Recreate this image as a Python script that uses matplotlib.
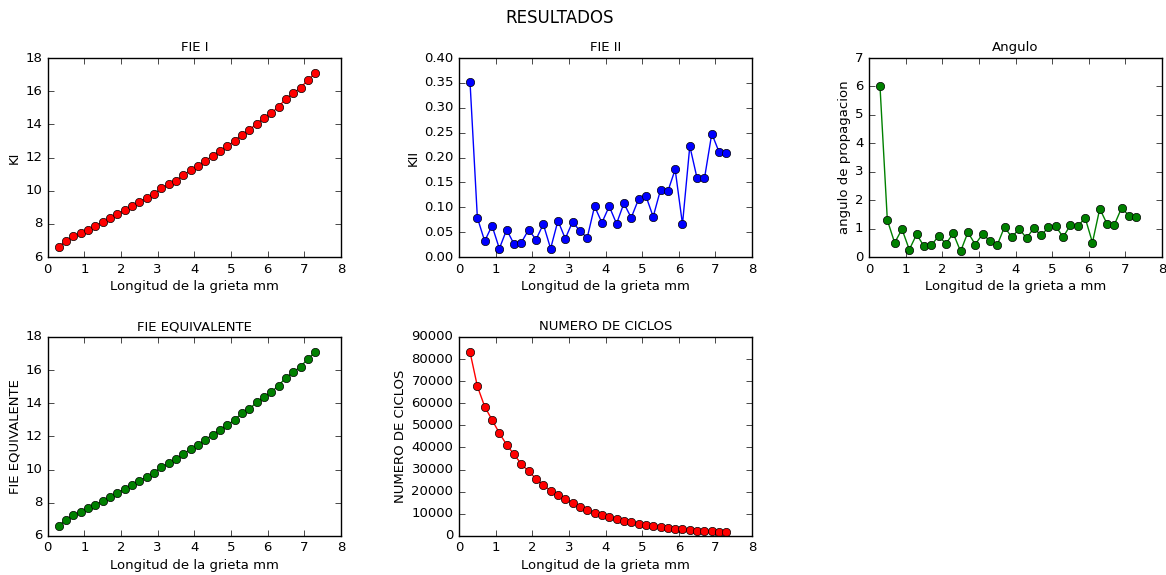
#!/usr/bin/env python3

import matplotlib
matplotlib.use('Agg')
import matplotlib.pyplot as plt

# longitud de grieta (mm)
longitud = [0.3, 0.5, 0.7, 0.9, 1.1, 1.3, 1.5, 1.7, 1.9, 2.1, 2.3, 2.5,
            2.7, 2.9, 3.1, 3.3, 3.5, 3.7, 3.9, 4.1, 4.3, 4.5, 4.7, 4.9,
            5.1, 5.3, 5.5, 5.7, 5.9, 6.1, 6.3, 6.5, 6.7, 6.9, 7.1, 7.3]

fie_1 = [6.62, 6.98, 7.26, 7.44, 7.66, 7.88, 8.10, 8.36, 8.58, 8.84, 9.10, 9.32,
         9.56, 9.82, 10.14, 10.38, 10.61, 10.95, 11.23, 11.49, 11.79, 12.11, 12.41, 12.67,
         13.01, 13.39, 13.65, 14.05, 14.37, 14.67, 15.07, 15.54, 15.88, 16.20, 16.68, 17.08]

fie_2 = [0.351, 0.079, 0.032, 0.063, 0.017, 0.055, 0.026, 0.029, 0.055, 0.035, 0.066, 0.017,
         0.073, 0.037, 0.071, 0.052, 0.039, 0.102, 0.069, 0.102, 0.067, 0.108, 0.079, 0.116,
         0.123, 0.081, 0.135, 0.132, 0.176, 0.066, 0.223, 0.158, 0.158, 0.248, 0.211, 0.210]

angulo = [6.00, 1.30, 0.50, 0.98, 0.26, 0.80, 0.38, 0.41, 0.74, 0.47, 0.83, 0.20,
          0.87, 0.44, 0.81, 0.57, 0.42, 1.06, 0.69, 1.00, 0.66, 1.02, 0.76, 1.05,
          1.08, 0.70, 1.13, 1.08, 1.38, 0.51, 1.70, 1.16, 1.14, 1.74, 1.44, 1.42]

fie_eq = [6.62, 6.98, 7.26, 7.44, 7.66, 7.88, 8.10, 8.36, 8.58, 8.84, 9.10, 9.32,
          9.56, 9.82, 10.14, 10.38, 10.61, 10.95, 11.23, 11.49, 11.79, 12.11, 12.41, 12.67,
          13.01, 13.39, 13.65, 14.05, 14.37, 14.67, 15.07, 15.54, 15.88, 16.20, 16.68, 17.08]

ciclos = [83100, 67700, 58500, 52500, 46500, 41200, 36900, 32500, 29200, 25900, 22900, 20500,
          18500, 16900, 14900, 13200, 11900, 10500, 9500, 8600, 7500, 6900, 6200, 5600,
          5000, 4700, 4200, 3600, 3300, 3000, 2700, 2400, 2200, 2100, 1800, 1700]


def panel(ax, y, fmt, title, ylabel, xlabel, ylim):
    ax.plot(longitud, y, fmt, markersize=6, linewidth=1)
    ax.set_title(title, fontsize=9.5)
    ax.set_ylabel(ylabel, fontsize=9.5, labelpad=3)
    ax.set_xlabel(xlabel, fontsize=9.5, labelpad=3)
    ax.set_xlim(0, 8)
    ax.set_ylim(*ylim)
    ax.tick_params(labelsize=9.5)


plt.style.use('classic')
fig = plt.figure(figsize=(11.66, 5.75), dpi=100, facecolor='white')
fig.suptitle('RESULTADOS', fontsize=12, x=0.48, y=0.985)

w = 0.2513
h = 0.346
cols = [0.041, 0.3937, 0.7453]
rows = [0.553, 0.068]

ax1 = fig.add_axes([cols[0], rows[0], w, h])
panel(ax1, fie_1, 'ro-', 'FIE I', 'KI', 'Longitud de la grieta mm', (6, 18))

ax2 = fig.add_axes([cols[1], rows[0], w, h])
panel(ax2, fie_2, 'bo-', 'FIE II', 'KII', 'Longitud de la grieta mm', (0, 0.4))

ax3 = fig.add_axes([cols[2], rows[0], w, h])
panel(ax3, angulo, 'go-', 'Angulo', 'angulo de propagacion',
      'Longitud de la grieta a mm', (0, 7))

ax4 = fig.add_axes([cols[0], rows[1], w, h])
panel(ax4, fie_eq, 'go-', 'FIE EQUIVALENTE', 'FIE EQUIVALENTE',
      'Longitud de la grieta mm', (6, 18))

ax5 = fig.add_axes([cols[1], rows[1], w, h])
panel(ax5, ciclos, 'ro-', 'NUMERO DE CICLOS', 'NUMERO DE CICLOS',
      'Longitud de la grieta mm', (0, 90000))

fig.savefig('out.png', dpi=100, facecolor='white')
